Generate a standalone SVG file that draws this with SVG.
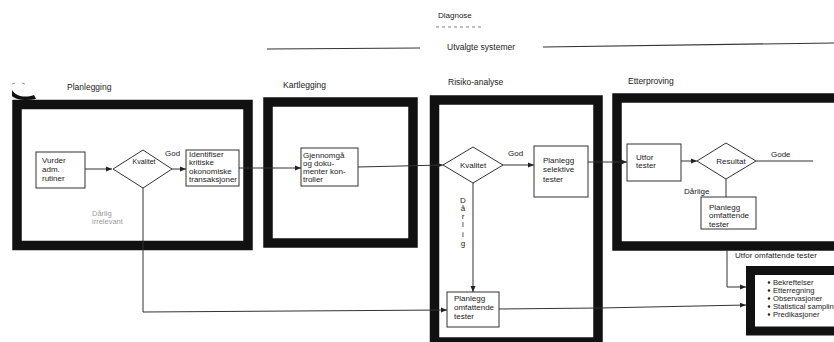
<svg xmlns="http://www.w3.org/2000/svg" width="834" height="342" viewBox="0 0 834 342">
<style>
text{font-family:"Liberation Sans",Arial,sans-serif;font-size:8px;fill:#222}
.h{font-size:8.5px}
.faint{fill:#9a9a9a;font-size:7.5px}
.b{font-size:7.6px}
.frame{fill:none;stroke:#111;stroke-width:9.5}
.box{fill:#fff;stroke:#333;stroke-width:1}
.ln{fill:none;stroke:#333;stroke-width:1}
.arr{fill:none;stroke:#333;stroke-width:1;marker-end:url(#ah)}
</style>
<defs>
<marker id="ah" viewBox="0 0 6 6" refX="6" refY="3" markerWidth="6" markerHeight="6" markerUnits="userSpaceOnUse" orient="auto">
<path d="M0,0.5 L6,3 L0,5.5 z" fill="#222"/>
</marker>
</defs>
<rect width="834" height="342" fill="#fff"/>

<g id="header">
<text x="438" y="18">Diagnose</text>
<line x1="436" y1="27" x2="483" y2="27" stroke="#aaa" stroke-width="1.5" stroke-dasharray="3,3"/>
<line x1="267" y1="49" x2="420" y2="48" stroke="#333" stroke-width="1"/>
<text x="447" y="50" class="h">Utvalgte systemer</text>
<line x1="543" y1="47" x2="834" y2="43" stroke="#333" stroke-width="1.2"/>
<path d="M12,90 C16,97 26,98 34,95 L36,99 C26,101 16,100 12,96 z" fill="#111"/>
<path d="M12,84 l3,-1 M22,83 l3,1" stroke="#999" stroke-width="1"/>
</g>

<g id="planlegging">
<text x="67" y="90" class="h">Planlegging</text>
<rect class="frame" x="17" y="104.5" width="231" height="141"/>
</g>
<g id="kartlegging">
<text x="283" y="88" class="h">Kartlegging</text>
<rect class="frame" x="268" y="102" width="145" height="141"/>
</g>
<g id="risiko">
<text x="448" y="85" class="h">Risiko-analyse</text>
<rect class="frame" x="434.5" y="100" width="163.5" height="242"/>
</g>
<g id="etterproving">
<text x="628" y="84" class="h">Etterproving</text>
<rect class="frame" x="617" y="98" width="222" height="148"/>
</g>

<g id="connectors">
<line class="arr" x1="85" y1="169" x2="112" y2="169"/>
<line class="arr" x1="172" y1="169" x2="186" y2="169"/>
<line class="arr" x1="239" y1="168" x2="301" y2="168"/>
<polyline class="arr" points="143,188 143,312 447,310"/>
<line class="arr" x1="358" y1="167" x2="443" y2="165"/>
<line class="arr" x1="503" y1="165" x2="534" y2="165"/>
<line class="arr" x1="473" y1="183" x2="473" y2="292"/>
<line class="arr" x1="588" y1="162" x2="627" y2="162"/>
<polyline class="arr" points="499,309 600,308 746,305"/>
<line class="arr" x1="681" y1="161" x2="697" y2="161"/>
<line class="ln" x1="756" y1="161" x2="813" y2="161"/>
<line class="ln" x1="726" y1="179" x2="726" y2="197"/>
<polyline class="arr" points="727,250 727,287 746,287"/>
</g>

<g id="vurder">
<rect class="box" x="36" y="152" width="49" height="36"/>
<text x="42" y="162.5">Vurder</text>
<text x="42" y="171.5">adm.</text>
<text x="42" y="180.5">rutiner</text>
</g>
<g id="kvalitet1">
<polygon class="box" points="113,169 143,150 172,169 143,188"/>
<text x="144" y="164" text-anchor="middle" style="font-size:7px">Kvalitet</text>
<text x="165" y="156">God</text>
<text x="92" y="216" class="faint">Dårlig</text>
<text x="92" y="224" class="faint">irrelevant</text>
</g>
<g id="identifiser">
<rect class="box" x="186" y="150" width="53" height="36"/>
<text x="189" y="157">Identifiser</text>
<text x="189" y="165">kritiske</text>
<text x="189" y="173.5">okonomiske</text>
<text x="189" y="181.5">transaksjoner</text>
</g>
<g id="gjennomga">
<rect class="box" x="301" y="148" width="57" height="38"/>
<text x="303" y="158">Gjennomgå</text>
<text x="303" y="166">og doku-</text>
<text x="303" y="174">menter kon-</text>
<text x="303" y="182">troller</text>
</g>
<g id="kvalitet2">
<polygon class="box" points="443,165 473,147 503,165 473,183"/>
<text x="473" y="168" text-anchor="middle">Kvalitet</text>
<text x="508" y="156">God</text>
<text x="463" y="203" text-anchor="middle">D</text>
<text x="463" y="211" text-anchor="middle">å</text>
<text x="463" y="219" text-anchor="middle">r</text>
<text x="463" y="227" text-anchor="middle">l</text>
<text x="463" y="237" text-anchor="middle">i</text>
<text x="463" y="246" text-anchor="middle">g</text>
</g>
<g id="selektive">
<rect class="box" x="534" y="146" width="54" height="51"/>
<text x="543" y="163">Planlegg</text>
<text x="543" y="172">selektive</text>
<text x="543" y="182">tester</text>
</g>
<g id="omfattende1">
<rect class="box" x="447" y="292" width="52" height="35"/>
<text x="454" y="300.5">Planlegg</text>
<text x="454" y="309.5">omfattende</text>
<text x="454" y="318.5">tester</text>
</g>
<g id="utfor">
<rect class="box" x="627" y="144" width="54" height="37"/>
<text x="636" y="159.5">Utfor</text>
<text x="636" y="167.5">tester</text>
</g>
<g id="resultat">
<polygon class="box" points="697,161 726,143 756,161 726,179"/>
<text x="731" y="164" text-anchor="middle">Resultat</text>
<text x="771" y="157">Gode</text>
<text x="684" y="194">Dårlige</text>
</g>
<g id="omfattende2">
<rect class="box" x="701" y="197" width="55" height="32"/>
<text x="709" y="210">Planlegg</text>
<text x="709" y="218">omfattende</text>
<text x="709" y="226.5">tester</text>
<text x="735" y="258">Utfor omfattende tester</text>
</g>
<g id="metoder">
<rect class="frame" x="750.5" y="270.5" width="100" height="60.5" style="stroke-width:9"/>
<circle cx="769" cy="282.5" r="1.2" fill="#222"/>
<circle cx="769" cy="290.5" r="1.2" fill="#222"/>
<circle cx="769" cy="298.5" r="1.2" fill="#222"/>
<circle cx="769" cy="306.5" r="1.2" fill="#222"/>
<circle cx="769" cy="314.5" r="1.2" fill="#222"/>
<text x="773" y="285" class="b">Bekreftelser</text>
<text x="773" y="293" class="b">Etterregning</text>
<text x="773" y="301" class="b">Observasjoner</text>
<text x="773" y="309" class="b">Statistical sampling</text>
<text x="773" y="317" class="b">Predikasjoner</text>
</g>
</svg>
